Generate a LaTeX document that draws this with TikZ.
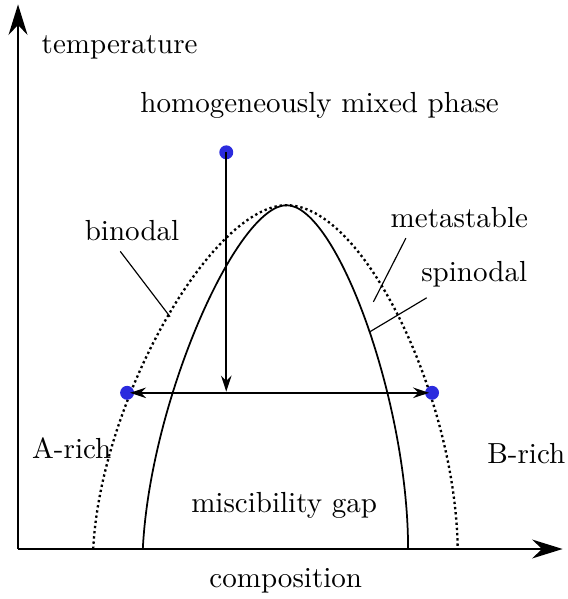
\documentclass[tikz,border=0pt]{standalone}
\usepackage{tikz}
\usetikzlibrary{arrows.meta, positioning, calc}
\definecolor{state}{HTML}{2B2BDE}

\begin{document}
\begin{tikzpicture}[
    axis/.style={-{Stealth[length=10.5pt, width=6.5pt]}, thick},
    arr/.style={-{Stealth[length=5.5pt, width=3.6pt]}, thick},
    twoarr/.style={{Stealth[length=5.5pt, width=3.6pt]}-{Stealth[length=5.5pt, width=3.6pt]}, thick},
    statept/.style={circle, fill=state, inner sep=0pt, minimum size=4.8pt},
    curve/.style={semithick},
    leader/.style={thin},
]
\useasboundingbox (-0.218,-0.605) rectangle (6.643,6.643);

% Axes
\coordinate (origin) at (0,0);
\coordinate (xend) at (6.59,0);
\coordinate (yend) at (0,6.59);
\draw[axis] (origin) -- (xend);
\draw[axis] (origin) -- (yend);
\node (templbl) at (1.23,6.07) {temperature};
\node (complbl) at (3.24,-0.38) {composition};

% Binodal (dotted) and spinodal (solid)
\coordinate (top) at (3.25,4.16);
\draw[thick, densely dotted] (0.91,0) .. controls (1.0,1.8) and (2.35,4.16) .. (top)
    .. controls (4.2,4.16) and (5.3,1.8) .. (5.32,0);
\draw[curve] (1.51,0) .. controls (1.6,1.8) and (2.65,4.16) .. (top)
    .. controls (3.85,4.16) and (4.72,1.8) .. (4.72,0);

% States
\node[statept] (ptop) at (2.52,4.80) {};
\node[statept] (pleft) at (1.32,1.89) {};
\node[statept] (pright) at (5.01,1.89) {};
\coordinate (pmid) at (2.52,1.89);

\draw[arr, shorten >=0.4pt] (ptop.center) -- (pmid);
\draw[twoarr, shorten <=1pt, shorten >=1pt] (pleft.center) -- (pright.center);

% Labels
\node (mixlbl) at (3.65,5.37) {homogeneously mixed phase};
\node (binlbl) at (1.38,3.85) {binodal};
\node (metalbl) at (5.34,4.01) {metastable};
\node (spinlbl) at (5.52,3.32) {spinodal};
\node (albl) at (0.65,1.22) {A-rich};
\node (blbl) at (6.15,1.16) {B-rich};
\node (gaplbl) at (3.22,0.53) {miscibility gap};

% Leader lines
\coordinate (binpt) at (1.84,2.81);
\coordinate (metapt) at (4.30,2.99);
\coordinate (spinpt) at (4.26,2.63);
\draw[leader] (binlbl.240) -- (binpt);
\draw[leader] (metalbl.201) -- (metapt);
\draw[leader] (spinlbl.206) -- (spinpt);

\end{tikzpicture}
\end{document}
